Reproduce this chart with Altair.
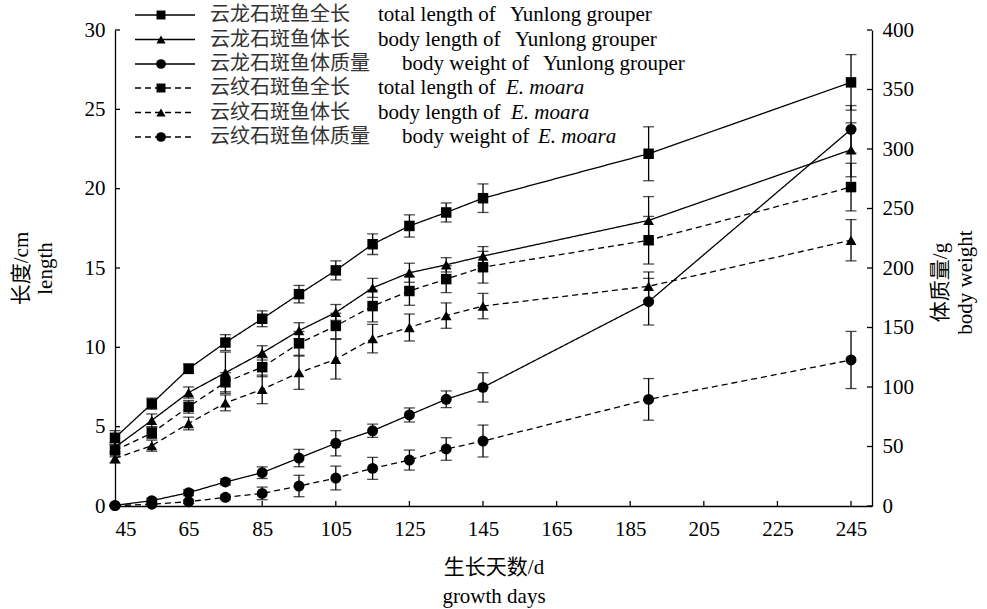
import altair as alt
import pandas as pd

# ---------------- data ----------------
days = [45, 55, 65, 75, 85, 95, 105, 115, 125, 135, 145, 190, 245]

yl_tl = [4.3, 6.45, 8.65, 10.3, 11.8, 13.35, 14.85, 16.5, 17.65, 18.5, 19.4, 22.2, 26.7]
yl_tl_err = [0.45, 0.35, 0.3, 0.5, 0.5, 0.55, 0.6, 0.65, 0.7, 0.6, 0.9, 1.7, 1.75]
yl_bl = [3.7, 5.4, 7.15, 8.4, 9.65, 11.05, 12.2, 13.75, 14.7, 15.2, 15.75, 18.0, 22.45]
yl_bl_err = [0.3, 0.4, 0.35, 1.3, 0.45, 0.5, 0.5, 0.6, 0.6, 0.45, 0.6, 1.5, 1.7]
yl_bw = [0.5, 4.5, 11.2, 20.2, 28.0, 40.3, 52.7, 63.2, 76.5, 89.7, 99.7, 171.7, 316.5]
yl_bw_err = [1.0, 2.0, 2.5, 2.5, 4.9, 7.3, 10.6, 5.6, 5.9, 7.0, 12.3, 19.6, 20.0]

em_tl = [3.5, 4.6, 6.25, 7.8, 8.75, 10.25, 11.35, 12.6, 13.55, 14.3, 15.05, 16.75, 20.1]
em_tl_err = [0.4, 0.35, 0.4, 0.6, 0.6, 0.75, 0.8, 1.0, 0.9, 0.85, 1.0, 1.5, 1.5]
em_bl = [3.0, 3.8, 5.2, 6.5, 7.35, 8.4, 9.25, 10.55, 11.25, 12.0, 12.6, 13.85, 16.75]
em_bl_err = [0.3, 0.35, 0.4, 0.5, 0.9, 1.05, 1.25, 0.9, 0.85, 0.8, 0.8, 0.9, 1.3]
em_bw = [0.3, 1.5, 3.6, 7.3, 10.6, 16.8, 23.5, 31.6, 38.6, 47.9, 54.6, 89.6, 122.7]
em_bw_err = [0.5, 1.0, 1.5, 2.0, 5.3, 9.0, 10.0, 9.2, 8.4, 9.5, 13.4, 17.5, 24.0]

x_ticks = [45, 65, 85, 105, 125, 145, 165, 185, 205, 225, 245]
len_ticks = [0, 5, 10, 15, 20, 25, 30]
wt_ticks = [0, 50, 100, 150, 200, 250, 300, 350, 400]

legend_cn = ["云龙石斑鱼全长", "云龙石斑鱼体长", "云龙石斑鱼体质量",
             "云纹石斑鱼全长", "云纹石斑鱼体长", "云纹石斑鱼体质量"]
legend_en = ["total length of", "body length of", "body weight of",
             "total length of", "body length of", "body weight of"]
legend_tail = ["Yunlong grouper", "Yunlong grouper", "Yunlong grouper",
               "E. moara", "E. moara", "E. moara"]
legend_tail_italic = [False, False, False, True, True, True]

series = [
    ("yl_tl", yl_tl, yl_tl_err, "len", "solid", "square"),
    ("yl_bl", yl_bl, yl_bl_err, "len", "solid", "triangle"),
    ("yl_bw", yl_bw, yl_bw_err, "wt", "solid", "circle"),
    ("em_tl", em_tl, em_tl_err, "len", "dash", "square"),
    ("em_bl", em_bl, em_bl_err, "len", "dash", "triangle"),
    ("em_bw", em_bw, em_bw_err, "wt", "dash", "circle"),
]

rows = []
for key, vals, errs, grp, style, shape in series:
    for d, v, e in zip(days, vals, errs):
        rows.append(dict(series=key, day=d, value=v, lo=max(v - e, 0), hi=v + e,
                         grp=grp, style=style, shape=shape))
df = pd.DataFrame(rows)
df_len = df[df.grp == "len"]
df_wt = df[df.grp == "wt"]

# ---------------- styling ----------------
FONT = "Liberation Serif, Noto Sans CJK SC"
W, H = 757, 476
LW = 1.3

x_scale = alt.Scale(domain=[45, 250.7], nice=False, zero=False)
x_axis = alt.Axis(values=x_ticks, tickSize=0, labelPadding=12, format="d",
                  title=["生长天数/d", "growth days"], titlePadding=17,
                  titleLineHeight=29)
yl_scale = alt.Scale(domain=[0, 30], nice=False)
yl_axis = alt.Axis(values=len_ticks, tickSize=0, labelPadding=10, orient="left",
                   title=["长度/cm", "length"], titlePadding=29, titleLineHeight=24)
yr_scale = alt.Scale(domain=[0, 400], nice=False)
yr_axis = alt.Axis(values=wt_ticks, tickSize=0, labelPadding=10, orient="right",
                   title=["体质量/g", "body weight"], titleX=57, titleY=252,
                   titleAngle=270, titleBaseline="top", titleLineHeight=25)

X = lambda f: alt.X(f, type="quantitative", scale=x_scale, axis=x_axis)
YL = lambda f: alt.Y(f, type="quantitative", scale=yl_scale, axis=yl_axis)
YR = lambda f: alt.Y(f, type="quantitative", scale=yr_scale, axis=yr_axis)

dash_enc = alt.StrokeDash("style:N", scale=alt.Scale(domain=["solid", "dash"],
                          range=[[1, 0], [6, 4]]), legend=None)
shape_enc = alt.Shape("shape:N", scale=alt.Scale(domain=["square", "triangle", "circle"],
                      range=["square", "triangle-up", "circle"]), legend=None)
size_enc = alt.Size("shape:N", scale=alt.Scale(domain=["square", "triangle", "circle"],
                    range=[110, 120, 170]), legend=None)


def series_layers(data, Y):
    base = alt.Chart(data)
    err = base.mark_rule(color="black", strokeWidth=LW).encode(
        x=X("day"), y=Y("lo"), y2="hi")
    cap_lo = base.mark_tick(color="black", orient="horizontal", size=11,
                            thickness=LW).encode(x=X("day"), y=Y("lo"))
    cap_hi = base.mark_tick(color="black", orient="horizontal", size=11,
                            thickness=LW).encode(x=X("day"), y=Y("hi"))
    line = base.mark_line(color="black", strokeWidth=LW).encode(
        x=X("day"), y=Y("value"), detail="series:N", strokeDash=dash_enc)
    pts = base.mark_point(filled=True, color="black", opacity=1).encode(
        x=X("day"), y=Y("value"), shape=shape_enc, size=size_enc)
    return [err, cap_lo, cap_hi, line, pts]


# inward ticks
xt = alt.Chart(pd.DataFrame({"t": x_ticks})).mark_rule(color="black", strokeWidth=LW).encode(
    x=X("t"), y=alt.value(H), y2=alt.value(H - 5))
lt = alt.Chart(pd.DataFrame({"t": len_ticks})).mark_rule(color="black", strokeWidth=LW).encode(
    y=YL("t"), x=alt.value(0), x2=alt.value(5))
rt = alt.Chart(pd.DataFrame({"t": wt_ticks})).mark_rule(color="black", strokeWidth=LW).encode(
    y=YR("t"), x=alt.value(W - 5), x2=alt.value(W))

# manual legend
one = pd.DataFrame({"a": [0]})
leg_y = [-15, 9.5, 34, 58, 82.5, 107]
shape_map = {"square": "square", "triangle": "triangle-up", "circle": "circle"}
size_map = {"square": 80, "triangle": 85, "circle": 95}
en_x = [263, 263, 287, 263, 263, 287]
tail_x = [395, 400, 428, 391, 396, 423]
legend_layers = []
for i, (key, vals, errs, grp, style, shape) in enumerate(series):
    yy = leg_y[i]
    dash = [1, 0] if style == "solid" else [6, 4]
    legend_layers.append(alt.Chart(one).mark_rule(color="black", strokeWidth=LW,
                         strokeDash=dash).encode(x=alt.value(20), x2=alt.value(80), y=alt.value(yy)))
    legend_layers.append(alt.Chart(one).mark_point(filled=True, color="black", opacity=1,
                         shape=shape_map[shape], size=size_map[shape]).encode(
        x=alt.value(46), y=alt.value(yy)))
    legend_layers.append(alt.Chart(one).mark_text(text=legend_cn[i], font="Noto Sans CJK SC",
                         fontSize=20, align="left", baseline="middle", color="#333333").encode(
        x=alt.value(95), y=alt.value(yy)))
    legend_layers.append(alt.Chart(one).mark_text(text=legend_en[i], font="Liberation Serif",
                         fontSize=21, align="left", baseline="middle", color="black").encode(
        x=alt.value(en_x[i]), y=alt.value(yy)))
    legend_layers.append(alt.Chart(one).mark_text(
        text=legend_tail[i], font="Liberation Serif", fontSize=21,
        fontStyle="italic" if legend_tail_italic[i] else "normal",
        align="left", baseline="middle", color="black").encode(
        x=alt.value(tail_x[i]), y=alt.value(yy)))

len_layer = alt.layer(lt, xt, *series_layers(df_len, YL), *legend_layers)
wt_layer = alt.layer(rt, *series_layers(df_wt, YR))

chart = alt.layer(len_layer, wt_layer).resolve_scale(y="independent").properties(
    width=W, height=H,
    autosize=alt.AutoSizeParams(type="none"),
    padding={"left": 115, "top": 30, "right": 115, "bottom": 103},
).configure(font=FONT).configure_view(stroke=None).configure_axis(
    domainColor="black", domainWidth=LW, labelColor="black", labelFontSize=21,
    labelFont=FONT, titleFont=FONT, titleFontSize=21, titleFontWeight="normal",
    titleColor="black", grid=False)

chart.save("out.html", embed_options={"renderer": "svg", "actions": False})
